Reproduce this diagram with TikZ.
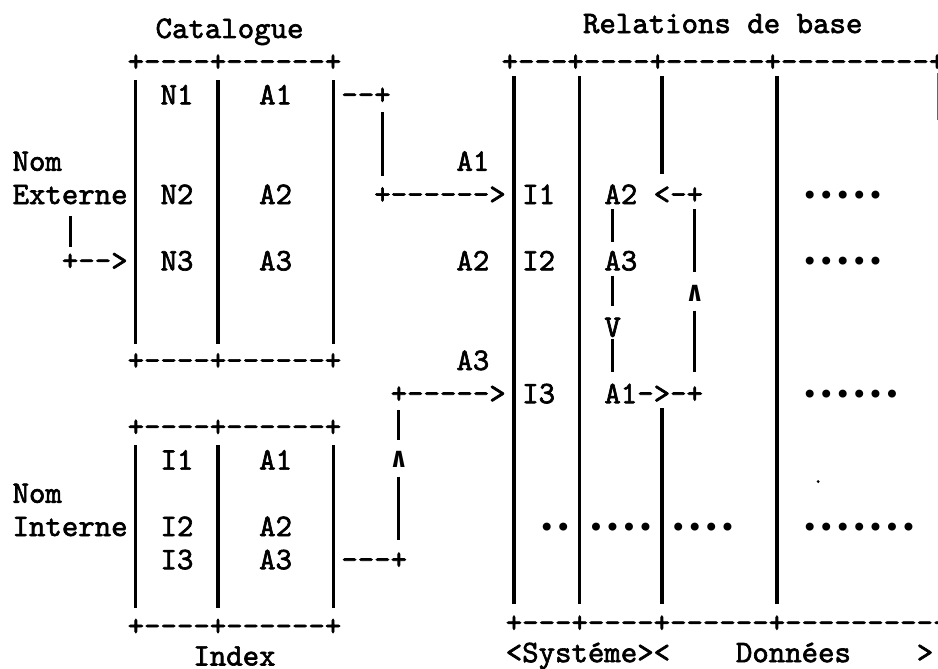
\documentclass[tikz,border=0pt]{standalone}
\usepackage{fontspec}
\newfontfamily\typewriter{lmmono10-regular.otf}[FakeBold=2]
\newfontfamily\symmono{DejaVu Sans Mono}
\begin{document}
\begin{tikzpicture}[x=16.44pt, y=-33.2pt,
  txt/.style={anchor=base west, inner sep=0pt, outer sep=0pt, yshift=-8pt,
              font=\typewriter\fontsize{31.3}{33}\selectfont},
  caret/.style={anchor=center, inner sep=0pt, outer sep=0pt, yshift=2pt,
                font=\symmono\bfseries\fontsize{28}{32}\selectfont},
  dots/.style={txt, font=\symmono\fontsize{27.3}{30}\selectfont},
  bar/.style={line width=3.2pt},
  link/.style={line width=3pt}]
% page frame
\fill[white] (-1.2652,-0.9036) rectangle (55.7908,19.247);
\useasboundingbox (-1.2652,-0.9036) rectangle (55.7908,19.247);

% ---------- titles ----------
\node[txt] (tcat) at (8.2,0) {Catalogue};
\node[txt] (trel) at (34.2,-0.15) {Relations de base};

% ---------- Catalogue table ----------
\node[txt] (cattop) at (6.5,1) {+----+------+};
\node[txt] (n1) at (8.5,2) {N1};
\node[txt] (ca1) at (14.5,2) {A1};
\node[txt] (n2) at (8.5,5) {N2};
\node[txt] (ca2) at (14.5,5) {A2};
\node[txt] (n3) at (8.5,7) {N3};
\node[txt] (ca3) at (14.5,7) {A3};
\node[txt] (catbot) at (6.5,10) {+----+------+};
\foreach \c in {7,12,19} \draw[bar] (\c,1.5) -- (\c,9.45);

% external name
\node[txt] (nom1) at (-0.5,4) {Nom};
\node[txt] (ext) at (-0.5,5) {Externe};
\node[txt] (extarr) at (2.5,7) {+-->};
\coordinate (e1) at (3,5.6);
\coordinate (e2) at (3,6.55);
\draw[link] (e1) -- (e2);

% ---------- Index table ----------
\node[txt] (idxtop) at (6.5,12) {+----+------+};
\node[txt] (i1) at (8.5,13) {I1};
\node[txt] (ia1) at (14.5,13) {A1};
\node[txt] (i2) at (8.5,15) {I2};
\node[txt] (ia2) at (14.5,15) {A2};
\node[txt] (i3) at (8.5,16) {I3};
\node[txt] (ia3) at (14.5,16) {A3};
\node[txt] (idxbot) at (6.5,18) {+----+------+};
\foreach \c in {7,12,19} \draw[bar] (\c,12.5) -- (\c,17.4);
\node[txt] (nom2) at (-0.5,14) {Nom};
\node[txt] (int) at (-0.5,15) {Interne};
\node[txt] (tidx) at (10.5,18.9) {Index};

% ---------- links from the tables ----------
\node[txt] (catout) at (19.5,2) {--+};
\coordinate (k1) at (22,2.47);
\coordinate (k2) at (22,4.4);
\draw[link] (k1) -- (k2);
\node[txt] (la1) at (26.5,4) {A1};
\node[txt] (arr1) at (21.5,5) {+------>};
\node[txt] (la2) at (26.5,7) {A2};
\node[txt] (la3) at (26.5,10) {A3};
\node[txt] (arr3) at (22.5,11) {+----->};
\node[txt] (idxout) at (19.5,16) {---+};
\node[caret] (up1) at (23,13) {∧};
\coordinate (m1) at (23,11.45);
\coordinate (m2) at (23,12.35);
\coordinate (m3) at (23,13.45);
\coordinate (m4) at (23,15.36);
\draw[link] (m1) -- (m2);
\draw[link] (m3) -- (m4);

% ---------- base relations ----------
\node[txt] (reltop) at (29.25,1) {+---+----+------+---------+};
\node[txt] (relbot) at (29.5,17.9) {+---+----+------+----------};
\foreach \c in {30,34,46} \draw[bar] (\c,1.4) -- (\c,17.3);
\draw[bar] (39,1.4) -- (39,4.35);
\draw[bar] (39,11.4) -- (39,17.3);
\draw[line width=2pt, black!60] (55.8,1.3) -- (55.8,2.7);

\node[txt] (ri1) at (30.5,5) {I1};
\node[txt] (ri2) at (30.5,7) {I2};
\node[txt] (ri3) at (30.5,11) {I3};
\node[txt] (ra2) at (35.5,5) {A2};
\node[txt] (ra3) at (35.5,7) {A3};
\node[txt] (rv) at (35.5,9) {V};
\node[txt] (ra1) at (35.5,11) {A1->-+};
\node[txt] (back) at (38.5,5) {<-+};
\node[caret] (up2) at (41,8) {∧};

% chain A2 -> A3 -> A1
\coordinate (p1) at (36,5.4);
\coordinate (p2) at (36,6.4);
\coordinate (p3) at (36,7.4);
\coordinate (p4) at (36,8.3);
\coordinate (p5) at (36,9.3);
\coordinate (p6) at (36,10.3);
\draw[link] (p1) -- (p2);
\draw[link] (p3) -- (p4);
\draw[link] (p5) -- (p6);
% return path A1 -> A2
\coordinate (q1) at (41,5.4);
\coordinate (q2) at (41,7.3);
\coordinate (q3) at (41,8.45);
\coordinate (q4) at (41,10.3);
\draw[link] (q1) -- (q2);
\draw[link] (q3) -- (q4);

% data rows
\node[dots] (d1) at (47.5,5) {∙∙∙∙∙};
\node[dots] (d2) at (47.5,7) {∙∙∙∙∙};
\node[dots] (d3) at (47.5,11) {∙∙∙∙∙∙};
\node[dots] (d4) at (31.5,15) {∙∙};
\node[dots] (d5) at (34.5,15) {∙∙∙∙};
\node[dots] (d6) at (39.5,15) {∙∙∙∙};
\node[dots] (d7) at (47.5,15) {∙∙∙∙∙∙∙};
\fill (48.5,13.6) circle (1.6pt);

% footer
\node[txt] (tsys) at (29.5,18.8) {<Systéme><};
\node[txt] (tdon) at (43.5,18.8) {Données};
\node[txt] (tend) at (54.5,18.8) {>};
\end{tikzpicture}
\end{document}
